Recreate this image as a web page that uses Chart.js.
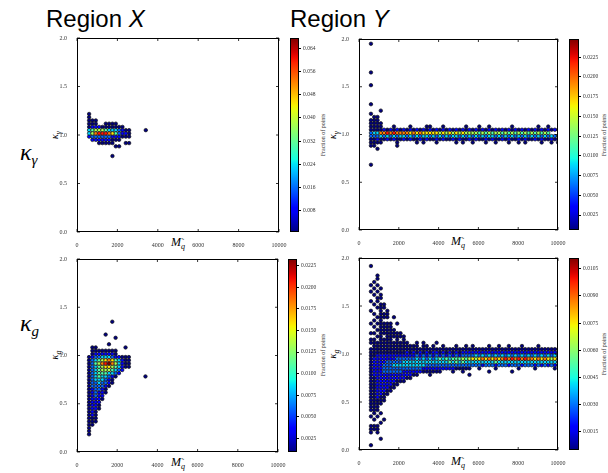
<!DOCTYPE html>
<html>
<head>
<meta charset="utf-8">
<script src="https://cdn.jsdelivr.net/npm/chart.js@4.4.0/dist/chart.umd.min.js"></script>
<style>
  body { margin: 0; width: 608px; height: 473px; background: #fff; position: relative; overflow: hidden; }
  canvas { position: absolute; }
  .t { position: absolute; white-space: nowrap; color: #000; line-height: 1; }
  .title { font-family: 'Liberation Sans', sans-serif; font-size: 24px; }
  .row { font-family: 'Liberation Serif', serif; font-size: 24px; }
  .row sub { font-size: 15px; vertical-align: -5px; }
  .ax { font-family: 'Liberation Serif', serif; font-size: 12px; transform: translate(-50%, -50%); }
  .ax sub { font-size: 8px; vertical-align: -3px; }
  .q { position: relative; font-style: italic; }
  .q b { position: absolute; left: 0.5px; top: -4px; font-weight: normal; font-style: normal; }
  .rot { transform: translate(-50%, -50%) rotate(-90deg); }
  .cbl { font-family: 'Liberation Serif', serif; font-size: 6px; color: #333; }
</style>
</head>
<body>
<div class="t title" style="left:46px;top:7px">Region <i>X</i></div>
<div class="t title" style="left:290px;top:7px">Region <i>Y</i></div>
<div class="t row" style="left:20px;top:140px"><i>κ</i><sub><i>γ</i></sub></div>
<div class="t row" style="left:20px;top:311px"><i>κ</i><sub><i>g</i></sub></div>

<div class="t ax" style="left:178px;top:243px"><i>M</i><sub><span class="q">q<b>˜</b></span></sub></div>
<div class="t ax" style="left:458px;top:242px"><i>M</i><sub><span class="q">q<b>˜</b></span></sub></div>
<div class="t ax" style="left:178px;top:463px"><i>M</i><sub><span class="q">q<b>˜</b></span></sub></div>
<div class="t ax" style="left:458px;top:462px"><i>M</i><sub><span class="q">q<b>˜</b></span></sub></div>

<div class="t ax rot" style="left:56px;top:135px;font-size:10px"><i>κ</i><sub><i>γ</i></sub></div>
<div class="t ax rot" style="left:334px;top:135px;font-size:10px"><i>κ</i><sub><i>γ</i></sub></div>
<div class="t ax rot" style="left:56px;top:355px;font-size:10px"><i>κ</i><sub><i>g</i></sub></div>
<div class="t ax rot" style="left:334px;top:354px;font-size:10px"><i>κ</i><sub><i>g</i></sub></div>

<div class="t ax rot cbl" style="left:323px;top:135px">Fraction of points</div>
<div class="t ax rot cbl" style="left:604px;top:135px">Fraction of points</div>
<div class="t ax rot cbl" style="left:323px;top:355px">Fraction of points</div>
<div class="t ax rot cbl" style="left:604px;top:354px">Fraction of points</div>

<canvas id="pA"></canvas><canvas id="cA"></canvas>
<canvas id="pB"></canvas><canvas id="cB"></canvas>
<canvas id="pC"></canvas><canvas id="cC"></canvas>
<canvas id="pD"></canvas><canvas id="cD"></canvas>

<script>
// bin layout shared by the four panels (column i -> X0 + DX*i, row j -> Y0 + DY*j)
const X0 = 600, DX = 165;
const Y0 = 0.05, DY = 1 / 30;

const xTicks = [0, 2000, 4000, 6000, 8000, 10000];
const yTicks = ['0.0', '0.5', '1.0', '1.5', '2.0'];

// density grids, top row first, one char per column
// '.' = empty bin, '0'..'9' = level between bottom and top of the colour bar

// kappa_gamma, region X
const topA = 35;
const gridA = [
  '0',
  '0',
  '000',
  '000..0000',
  '01110000000',
  '3455543332100....0',
  '3578887642110',
  '1222222111000',
  '.111111000',
  '...00000...00',
  '........00',
  '',
  '',
  '.......0'
];
const rangeA = [0.0005, 0.0677];
const cbTicksA = ['0.008', '0.016', '0.024', '0.032', '0.040', '0.048', '0.056', '0.064'];

// kappa_gamma, region Y
const topB = 57;
const gridB = [
  '0', '', '', '', '', '', '', '', '',
  '0', '', '', '',
  '0', '', '', '', '', '',
  '0', '',
  '...0',
  '0',
  '.00',
  '000',
  '0000',
  '0000...0....0....00...0......0...0..0......0.......0..0',
  '0000101010101010101010101010101010101010101010101010101010',
  '2337787877776767666665656565655554545455454545454545454',
  '2223232323323232332323232332323232323323232323232323232323',
  '0010010100101001010010100101001010010100101001010010100101',
  '0000....0.....0.0...0.....0.0..0...0..0...0..0.0....0..0.0',
  '00......0',
  '..0',
  '', '', '', '',
  '0'
];
const rangeB = [0.0006, 0.0248];
const cbTicksB = ['0.0025', '0.0050', '0.0075', '0.0100', '0.0125', '0.0150', '0.0175', '0.0200', '0.0225'];

// kappa_g, region X
const topC = 39;
const gridC = [
  '.......0',
  '', '', '',
  '.....0',
  '........0',
  '',
  '......0',
  '.00........0',
  '.00000000',
  '.01111110',
  '0122333211000',
  '0234567643100',
  '0245789753100',
  '0234566543100',
  '02345554321',
  '0234443321',
  '023433210........0',
  '02333210',
  '02232210',
  '0222210',
  '012210',
  '012110',
  '01211',
  '01110',
  '0111',
  '0110',
  '0110',
  '010',
  '010',
  '000',
  '000',
  '00',
  '0',
  '0',
  '0'
];
const rangeC = [0.0009, 0.0233];
const cbTicksC = ['0.0025', '0.0050', '0.0075', '0.0100', '0.0125', '0.0150', '0.0175', '0.0200', '0.0225'];

// kappa_g, region Y
const topD = 56;
const gridD = [
  '0',
  '',
  '',
  '..0',
  '..0',
  '.0',
  '0.0',
  '.0.0',
  '0.0',
  '.0.0',
  '..00',
  '0.0',
  '.0.00',
  '..000',
  '0..0.0',
  '.0.000',
  '..0000.0',
  '.0.0',
  '0.00000.0',
  '.0.0000',
  '..000000',
  '00.0000000',
  '..00.000000',
  '00.0000.0.0',
  '000000000000..0.0...0',
  '.00000000000000.00.0..0...0..0.0....0..0..0...0....0',
  '0000000000000000000000000000000000000000000000000000000000',
  '0000000000010101010110101010111111111111111111111111111111',
  '0011111111111121212121212121222232323232323232323232323232',
  '0111111122222232323234343444545656767676787878787767676565',
  '0111122222333333333333334343433333333343333333333333333333',
  '0111222333333333322222222222222222122212221222122212121211',
  '0111222222222222111111111100000..0....0......0....0.....0',
  '0111222222111111000000...0..0.......0......0',
  '011111111111100...0...........0',
  '0011111111100',
  '00111111000',
  '001111100',
  '00111100',
  '0011100',
  '001100',
  '00100',
  '00000',
  '0000',
  '000',
  '000',
  '.0.0',
  '0.0',
  '.0..0',
  '...0',
  '000',
  '000',
  '0.0',
  '',
  '...0',
  '',
  '0'
];
const rangeD = [0.00048, 0.0111];
const cbTicksD = ['0.0015', '0.0030', '0.0045', '0.0060', '0.0075', '0.0090', '0.0105'];

// matplotlib "jet"
const JET = {
  r: [[0, 0], [0.35, 0], [0.66, 1], [0.89, 1], [1, 0.5]],
  g: [[0, 0], [0.125, 0], [0.375, 1], [0.64, 1], [0.91, 0], [1, 0]],
  b: [[0, 0.5], [0.11, 1], [0.34, 1], [0.65, 0], [1, 0]]
};
function seg(pts, t) {
  for (let k = 1; k < pts.length; k++) {
    if (t <= pts[k][0]) {
      const [x0, y0] = pts[k - 1], [x1, y1] = pts[k];
      return y0 + (y1 - y0) * (t - x0) / (x1 - x0);
    }
  }
  return pts[pts.length - 1][1];
}
function jet(t) {
  t = Math.max(0, Math.min(1, t));
  const c = k => Math.round(255 * seg(JET[k], t));
  return `rgb(${c('r')},${c('g')},${c('b')})`;
}

function cells(rows, top, lo, hi) {
  const pts = [];
  rows.forEach((row, r) => {
    for (let i = 0; i < row.length; i++) {
      if (row[i] === '.') continue;
      const lvl = Number(row[i]);
      pts.push({ x: X0 + DX * i, y: Y0 + DY * (top - r), v: lo + (hi - lo) * lvl / 9 });
    }
  });
  pts.sort((a, b) => a.v - b.v);
  return pts;
}

const tickFont = { family: 'Liberation Serif', size: 6 };

// box outline with inward ticks on all four sides, like the matplotlib axes
const frame = {
  id: 'frame',
  afterDraw(chart) {
    const { ctx, chartArea: a, scales } = chart;
    ctx.save();
    ctx.strokeStyle = '#000';
    ctx.lineWidth = 1;
    ctx.strokeRect(Math.round(a.left) + 0.5, Math.round(a.top) + 0.5,
      Math.round(a.right - a.left) - 1, Math.round(a.bottom - a.top) - 1);
    ctx.lineWidth = 0.8;
    ctx.beginPath();
    scales.x.ticks.forEach(t => {
      const px = scales.x.getPixelForValue(t.value);
      ctx.moveTo(px, a.bottom); ctx.lineTo(px, a.bottom - 3);
      ctx.moveTo(px, a.top); ctx.lineTo(px, a.top + 3);
    });
    scales.y.ticks.forEach(t => {
      const py = scales.y.getPixelForValue(t.value);
      ctx.moveTo(a.left, py); ctx.lineTo(a.left + 3, py);
      ctx.moveTo(a.right, py); ctx.lineTo(a.right - 3, py);
    });
    ctx.stroke();
    ctx.restore();
  }
};

function panel(id, box, pts, lo, hi) {
  const cv = document.getElementById(id);
  cv.width = box.r - box.l + 52;
  cv.height = box.b - box.t + 40;
  cv.style.left = (box.l - 40) + 'px';
  cv.style.top = (box.t - 10) + 'px';
  new Chart(cv, {
    type: 'scatter',
    data: {
      datasets: [{
        data: pts,
        pointRadius: 1.75,
        borderWidth: 0.7,
        borderColor: '#111',
        backgroundColor: c => c.raw ? jet((c.raw.v - lo) / (hi - lo)) : '#000',
        clip: 0
      }]
    },
    options: {
      responsive: false,
      animation: false,
      layout: { padding: { top: 10, right: 12, left: 0, bottom: 0 } },
      plugins: { legend: { display: false }, tooltip: { enabled: false } },
      scales: {
        x: {
          type: 'linear', min: 0, max: 10000,
          afterBuildTicks: s => { s.ticks = xTicks.map(v => ({ value: v })); },
          ticks: { font: tickFont, color: '#333', padding: 2, maxRotation: 0, callback: v => String(v) },
          grid: { display: false },
          border: { display: false },
          afterFit: s => { s.height = 30; }
        },
        y: {
          type: 'linear', min: 0, max: 2,
          afterBuildTicks: s => { s.ticks = yTicks.map(v => ({ value: parseFloat(v) })); },
          ticks: { font: tickFont, color: '#333', padding: 2, callback: (v, i) => yTicks[i] },
          grid: { display: false },
          border: { display: false },
          afterFit: s => { s.width = 40; }
        }
      }
    },
    plugins: [frame]
  });
}

const cbFrame = {
  id: 'cbFrame',
  afterDraw(chart) {
    const { ctx, chartArea: a } = chart;
    ctx.save();
    ctx.strokeStyle = '#000';
    ctx.lineWidth = 1;
    ctx.strokeRect(Math.round(a.left) + 0.5, Math.round(a.top) + 0.5,
      Math.round(a.right - a.left) - 1, Math.round(a.bottom - a.top) - 1);
    ctx.restore();
  }
};

function colorbar(id, box, lo, hi, labels) {
  const cv = document.getElementById(id);
  cv.width = box.r - box.l + 42;
  cv.height = box.b - box.t + 20;
  cv.style.left = (box.l - 2) + 'px';
  cv.style.top = (box.t - 10) + 'px';
  new Chart(cv, {
    type: 'bar',
    data: {
      labels: [''],
      datasets: [{
        data: [[lo, hi]],
        borderWidth: 0,
        barPercentage: 1,
        categoryPercentage: 1,
        backgroundColor: c => {
          const a = c.chart.chartArea;
          if (!a) return '#000';
          const g = c.chart.ctx.createLinearGradient(0, a.bottom, 0, a.top);
          for (let k = 0; k <= 40; k++) g.addColorStop(k / 40, jet(k / 40));
          return g;
        }
      }]
    },
    options: {
      responsive: false,
      animation: false,
      layout: { padding: { top: 10, bottom: 10, left: 2, right: 0 } },
      plugins: { legend: { display: false }, tooltip: { enabled: false } },
      scales: {
        x: { display: false },
        y: {
          position: 'right', min: lo, max: hi,
          afterBuildTicks: s => { s.ticks = labels.map(t => ({ value: parseFloat(t) })); },
          ticks: { font: { family: 'Liberation Serif', size: 5.5 }, color: '#333', padding: 2, callback: (v, i) => labels[i] },
          grid: { drawOnChartArea: false, tickLength: 2, color: '#000' },
          border: { display: false },
          afterFit: s => { s.width = 40; }
        }
      }
    },
    plugins: [cbFrame]
  });
}

panel('pA', { l: 77, t: 38, r: 279, b: 232 }, cells(gridA, topA, rangeA[0], rangeA[1]), rangeA[0], rangeA[1]);
panel('pB', { l: 359, t: 39, r: 558, b: 230 }, cells(gridB, topB, rangeB[0], rangeB[1]), rangeB[0], rangeB[1]);
panel('pC', { l: 77, t: 259, r: 278, b: 452 }, cells(gridC, topC, rangeC[0], rangeC[1]), rangeC[0], rangeC[1]);
panel('pD', { l: 359, t: 258, r: 558, b: 450 }, cells(gridD, topD, rangeD[0], rangeD[1]), rangeD[0], rangeD[1]);

colorbar('cA', { l: 290, t: 38, r: 299, b: 232 }, rangeA[0], rangeA[1], cbTicksA);
colorbar('cB', { l: 569, t: 39, r: 579, b: 230 }, rangeB[0], rangeB[1], cbTicksB);
colorbar('cC', { l: 288, t: 259, r: 297, b: 452 }, rangeC[0], rangeC[1], cbTicksC);
colorbar('cD', { l: 569, t: 258, r: 579, b: 450 }, rangeD[0], rangeD[1], cbTicksD);
</script>
</body>
</html>
